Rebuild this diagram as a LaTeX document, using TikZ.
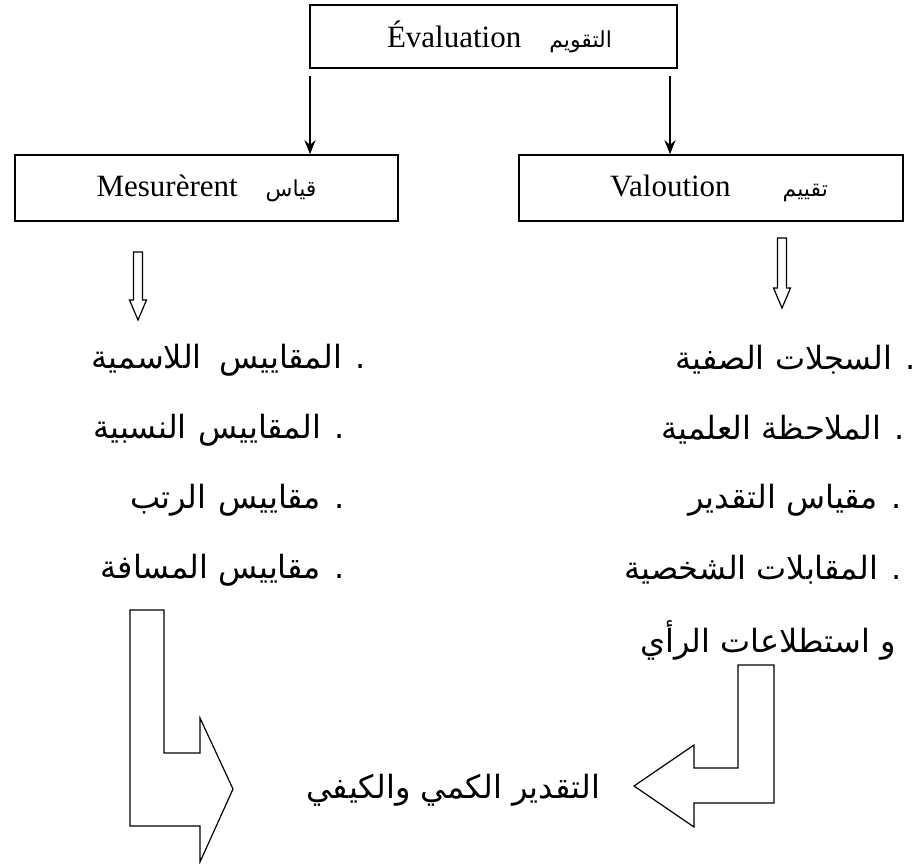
\documentclass[tikz,border=0pt]{standalone}
\usepackage{fontspec}
\setmainfont{Liberation Serif}
\newfontfamily\arabicfont[Script=Arabic]{DejaVu Sans}
\TeXXeTstate=1
\usetikzlibrary{arrows.meta}

% arabic text, right to left
\newcommand{\ar}[1]{{\arabicfont\beginR #1\endR}}
\newcommand{\smallar}[1]{{\fontsize{22}{25}\selectfont\ar{#1}}}

\begin{document}
\begin{tikzpicture}[x=1pt, y=-1pt,
    box/.style={draw, line width=1.5pt, inner sep=0pt, font=\fontsize{31}{34}\selectfont},
    item/.style={anchor=east, inner sep=0pt, font=\arabicfont\fontsize{32}{36}\selectfont},
    down/.style={-{Stealth[length=14pt, width=11pt]}, line width=2.2pt},
    hollow/.style={draw, line width=1.2pt, line join=miter},
]
    \useasboundingbox (0,0) rectangle (923,864);

    % Boxes
    \node[box, minimum width=367pt, minimum height=63pt] (eval) at (493.5,36.5)
        {\hspace*{12pt}Évaluation\hspace{28pt}\smallar{التقويم}};
    \node[box, minimum width=383pt, minimum height=66pt] (mesure) at (206.5,188)
        {Mesurèrent\hspace{28pt}\smallar{قياس}};
    \node[box, minimum width=384pt, minimum height=66pt] (valeur) at (711,188)
        {\hspace*{16pt}Valoution\hspace{52pt}\smallar{تقييم}};

    % Arrows from the top box
    \coordinate (evalL) at (310,76);
    \coordinate (evalR) at (670,76);
    \draw[down] (evalL) -- (mesure.north -| evalL);
    \draw[down] (evalR) -- (valeur.north -| evalR);

    % Hollow arrows under the boxes
    \coordinate (mesureD) at (138,252);
    \coordinate (valeurD) at (782,238);
    \draw[hollow] (mesureD) ++(-4.5,0) -- ++(9,0) -- ++(0,48) -- ++(4,0)
        -- ++(-8.5,20) -- ++(-8.5,-20) -- ++(4,0) -- cycle;
    \draw[hollow] (valeurD) ++(-4.5,0) -- ++(9,0) -- ++(0,50) -- ++(4,0)
        -- ++(-8.5,20) -- ++(-8.5,-20) -- ++(4,0) -- cycle;

    % Left list
    \node[item] (m1) at (366,360) {\ar{. المقاييس\hspace{18pt}اللاسمية}};
    \node[item] (m2) at (345,430) {\ar{. المقاييس\hspace{12pt}النسبية}};
    \node[item] (m3) at (345,500) {\ar{. مقاييس\hspace{12pt}الرتب}};
    \node[item] (m4) at (345,570) {\ar{. مقاييس المسافة}};

    % Right list
    \node[item] (v1) at (916,360) {\ar{. السجلات الصفية}};
    \node[item] (v2) at (905,430) {\ar{. الملاحظة العلمية}};
    \node[item] (v3) at (902,500) {\ar{. مقياس التقدير}};
    \node[item] (v4) at (902,570) {\ar{. المقابلات الشخصية}};
    \node[item] (v5) at (896,640) {\ar{و استطلاعات\hspace{10pt}الرأي}};

    % Result
    \node[item, anchor=west] (result) at (306,790) {\ar{التقدير الكمي والكيفي}};

    % Bent arrows
    \draw[hollow] (130,610) -- (164,610) -- (164,753) -- (200,753) -- (200,718)
        -- (233,789) -- (200,862) -- (200,826) -- (130,826) -- cycle;
    \draw[hollow] (738,665) -- (774,665) -- (774,803) -- (694,803) -- (694,827)
        -- (634,786) -- (694,745) -- (694,768) -- (738,768) -- cycle;
\end{tikzpicture}
\end{document}
